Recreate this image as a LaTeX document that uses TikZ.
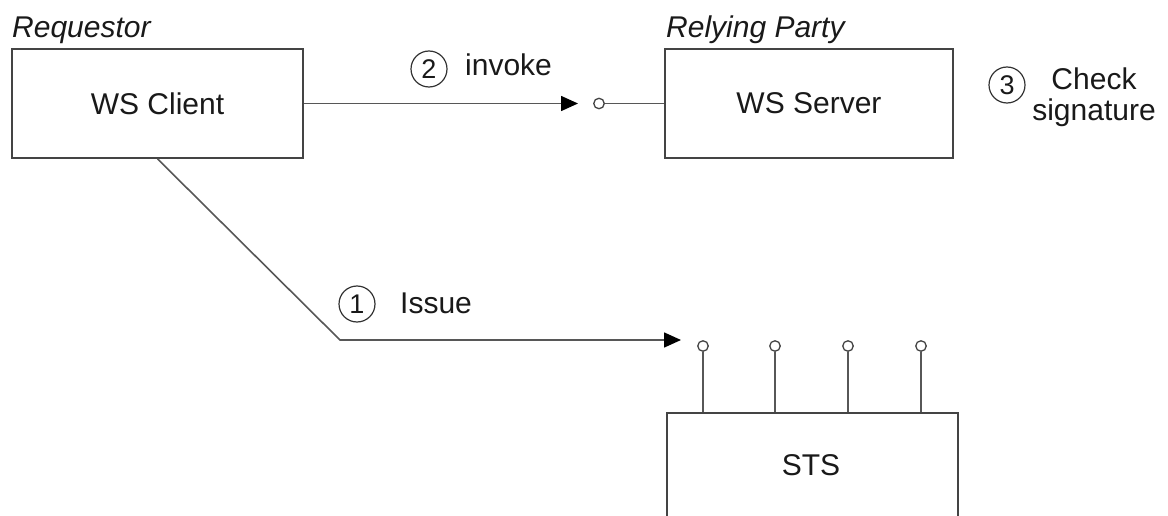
\documentclass[tikz,border=0pt]{standalone}
\usepackage{fontspec}
\setmainfont{Liberation Sans}
\usetikzlibrary{arrows.meta}
\definecolor{lc}{HTML}{444444}
\tikzset{
  box/.style={draw=lc, line width=1.7pt, fill=white, minimum width=291pt, minimum height=109pt, inner sep=0pt},
  txt/.style={font=\fontsize{30}{34}\selectfont, inner sep=0pt, text=black!90},
  role/.style={font=\fontsize{30}{34}\selectfont\itshape, inner sep=0pt, anchor=base west, text=black!90},
  num/.style={circle, draw=black!80, line width=1.2pt, minimum size=36pt, inner sep=0pt, font=\fontsize{27}{29}\selectfont, text=black!90},
  conn/.style={draw=lc!90, line width=1.6pt},
  arr/.style={conn, -{Triangle[length=17pt,width=15pt,fill=black,color=black]}},
  lolli/.style={circle, draw=lc, line width=1.3pt, fill=white, minimum size=10.5pt, inner sep=0pt}
}
\begin{document}
\begin{tikzpicture}[x=1pt,y=-1pt]
\useasboundingbox (0,0) rectangle (1168,516);
\clip (0,0) rectangle (1168,516);
% boxes
\node[box] (client) at (157.5,103.5) {};
\node[txt] (clienttext) at (157.5,103.5) {WS Client};
\node[box, minimum width=288pt] (server) at (809,103.5) {};
\node[txt] (servertext) at (809,103.5) {WS Server};
\node[box, minimum width=291pt, minimum height=150pt, anchor=north west] (sts) at (666,412) {};
\node[txt] (ststext) at (811,465) {STS};
% roles
\node[role] (req) at (12,38) {Requestor};
\node[role] (rp) at (666,38) {Relying Party};
% invoke
\coordinate (tip2) at (578,103.5);
\node[lolli] (s1) at (599,103.5) {};
\draw[arr] (client.east) -- (tip2);
\draw[conn] (s1) -- (server.west);
\node[num] (n2) at (429,69) {2};
\node[txt, anchor=base west] (inv) at (465,76) {invoke};
% check signature
\node[num] (n3) at (1007,85) {3};
\node[txt, align=center] (chk) at (1094,97) {Check\\[-3pt]signature};
% issue
\coordinate (bend) at (340,340);
\coordinate (tip1) at (681,340);
\draw[arr] (client.south) -- (bend) -- (tip1);
\node[num] (n1) at (357,304) {1};
\node[txt, anchor=base west] (iss) at (400,313) {Issue};
% lollipops on STS
\foreach \i/\x in {1/703,2/775,3/848,4/921}{
  \node[lolli] (p\i) at (\x,346) {};
  \draw[conn] (p\i) -- (p\i |- sts.north);
}
\end{tikzpicture}
\end{document}
